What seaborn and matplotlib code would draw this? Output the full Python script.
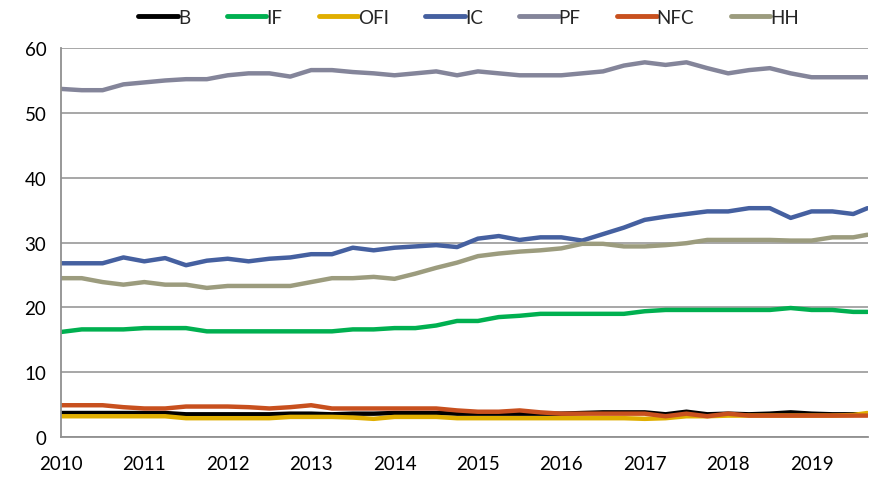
import pandas as pd
import numpy as np
import seaborn as sns
import matplotlib.pyplot as plt

# quarterly observations, 2010Q1 .. 2019Q3 plus latest reading
years = [2010 + 0.25 * k for k in range(39)] + [2019.67]

series = ['B', 'IF', 'OFI', 'IC', 'PF', 'NFC', 'HH']

b = [3.7, 3.7, 3.7, 3.7, 3.7, 3.7, 3.5, 3.5, 3.5, 3.5, 3.5, 3.6, 3.6, 3.5, 3.6, 3.6, 3.7, 3.7, 3.7, 3.6,
     3.6, 3.6, 3.6, 3.6, 3.6, 3.7, 3.8, 3.8, 3.8, 3.5, 3.9, 3.5, 3.6, 3.5, 3.6, 3.8, 3.6, 3.5, 3.5, 3.5]
if_ = [16.2, 16.6, 16.6, 16.6, 16.8, 16.8, 16.8, 16.3, 16.3, 16.3, 16.3, 16.3, 16.3, 16.3, 16.6, 16.6, 16.8, 16.8, 17.2, 17.9,
       17.9, 18.5, 18.7, 19.0, 19.0, 19.0, 19.0, 19.0, 19.4, 19.6, 19.6, 19.6, 19.6, 19.6, 19.6, 19.9, 19.6, 19.6, 19.3, 19.3]
ofi = [3.2, 3.2, 3.2, 3.2, 3.2, 3.2, 2.9, 2.9, 2.9, 2.9, 2.9, 3.1, 3.1, 3.1, 3.0, 2.8, 3.1, 3.1, 3.1, 2.9,
       2.9, 2.9, 2.9, 2.9, 2.9, 2.9, 2.9, 2.9, 2.8, 2.9, 3.2, 3.2, 3.3, 3.3, 3.3, 3.3, 3.3, 3.3, 3.4, 3.7]
ic = [26.8, 26.8, 26.8, 27.7, 27.1, 27.6, 26.5, 27.2, 27.5, 27.1, 27.5, 27.7, 28.2, 28.2, 29.2, 28.8, 29.2, 29.4, 29.6, 29.3,
      30.6, 31.0, 30.4, 30.8, 30.8, 30.3, 31.3, 32.3, 33.5, 34.0, 34.4, 34.8, 34.8, 35.3, 35.3, 33.8, 34.8, 34.8, 34.4, 35.3]
pf = [53.7, 53.5, 53.5, 54.4, 54.7, 55.0, 55.2, 55.2, 55.8, 56.1, 56.1, 55.6, 56.6, 56.6, 56.3, 56.1, 55.8, 56.1, 56.4, 55.8,
      56.4, 56.1, 55.8, 55.8, 55.8, 56.1, 56.4, 57.3, 57.8, 57.4, 57.8, 56.9, 56.1, 56.6, 56.9, 56.1, 55.5, 55.5, 55.5, 55.5]
nfc = [4.9, 4.9, 4.9, 4.6, 4.4, 4.4, 4.7, 4.7, 4.7, 4.6, 4.4, 4.6, 4.9, 4.4, 4.4, 4.4, 4.4, 4.4, 4.4, 4.1,
       3.9, 3.9, 4.1, 3.8, 3.6, 3.6, 3.6, 3.6, 3.6, 3.2, 3.6, 3.2, 3.6, 3.3, 3.3, 3.3, 3.3, 3.3, 3.3, 3.3]
hh = [24.5, 24.5, 23.9, 23.5, 23.9, 23.5, 23.5, 23.0, 23.3, 23.3, 23.3, 23.3, 23.9, 24.5, 24.5, 24.7, 24.4, 25.2, 26.1, 26.9,
      27.9, 28.3, 28.6, 28.8, 29.1, 29.8, 29.8, 29.4, 29.4, 29.6, 29.9, 30.4, 30.4, 30.4, 30.4, 30.3, 30.3, 30.8, 30.8, 31.2]

colors = ['#000000', '#00B050', '#E0AE00', '#4560A0', '#84859A', '#C8501E', '#9C9C7E']

table = pd.DataFrame({'year': years, 'B': b, 'IF': if_, 'OFI': ofi, 'IC': ic,
                      'PF': pf, 'NFC': nfc, 'HH': hh})
long = table.melt(id_vars='year', var_name='sector', value_name='share')

sns.set_style('white')
plt.rcParams['font.family'] = ['Lato', 'DejaVu Sans']

fig = plt.figure(figsize=(8.7, 4.81), dpi=100)
ax = fig.add_axes([0.070, 0.0894, 0.928, 0.8086])

sns.lineplot(data=long, x='year', y='share', hue='sector', hue_order=series,
             palette=colors, linewidth=3.2, ax=ax)

ax.set_xlim(2010, 2019.68)
ax.set_ylim(0, 60)
ax.set_xticks(range(2010, 2020))
ax.set_yticks(range(0, 61, 10))
ax.yaxis.grid(True, color='#A0A0A0', linewidth=1.3)
ax.set_axisbelow(True)
for s in ['top', 'right']:
    ax.spines[s].set_visible(False)
for s in ['left', 'bottom']:
    ax.spines[s].set_color('#909090')
    ax.spines[s].set_linewidth(1.3)
ax.tick_params(axis='both', labelsize=13.5, colors='#909090', labelcolor='black',
               length=6, width=1.3, direction='out')
ax.tick_params(axis='y', length=7)
ax.tick_params(axis='x', pad=7)
ax.set_xlabel('')
ax.set_ylabel('')

ax.legend(loc='upper center', bbox_to_anchor=(0.505, 1.145), ncol=7, frameon=False,
          fontsize=13.5, handlelength=2.1, handletextpad=0.0, columnspacing=1.95)
for line in ax.get_legend().get_lines():
    line.set_linewidth(3.5)

plt.savefig('out.png', dpi=100)
